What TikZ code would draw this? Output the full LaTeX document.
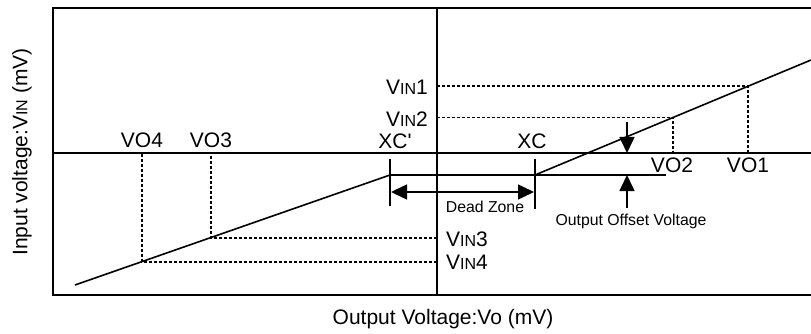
\documentclass[tikz,border=0pt]{standalone}
\usepackage{fontspec}
\setmainfont{Liberation Sans}
\usetikzlibrary{arrows.meta}
\newcommand{\vin}[1]{V{\fontsize{16}{17}\selectfont IN}#1}
\begin{document}
\begin{tikzpicture}[x=1pt,y=-1pt,
  frame/.style={line width=1.9pt},
  axis/.style={line width=1.9pt},
  curve/.style={line width=1.6pt},
  tick/.style={line width=1.5pt},
  guide/.style={line width=1.1pt,dash pattern=on 3pt off 2pt},
  big/.style={font=\fontsize{21}{23}\selectfont,inner sep=0pt},
  small/.style={font=\fontsize{15.8}{17}\selectfont,inner sep=0pt},
  arr/.style={line width=1.5pt,-{Triangle[length=16pt,width=15pt]}},
  darr/.style={line width=1.5pt,{Triangle[length=16pt,width=15pt]}-{Triangle[length=16pt,width=15pt]}}
]
\useasboundingbox (0,0) rectangle (811,334);
% frame
\coordinate (tl) at (53,8);
\coordinate (tr) at (812,8);
\coordinate (bl) at (53,295);
\coordinate (br) at (812,295);
\draw[frame] (tr) -- (tl) -- (bl) -- (br);
% axes
\coordinate (hl) at (53,153);
\coordinate (hr) at (812,153);
\coordinate (vt) at (437,8);
\coordinate (vb) at (437,295);
\draw[axis] (hl) -- (hr);
\draw[axis] (vt) -- (vb);
% characteristic
\coordinate (ls) at (75,285);
\coordinate (xcp) at (390,175);
\coordinate (xc) at (535,175);
\coordinate (re) at (811,60);
\draw[curve] (ls) -- (xcp);
\draw[curve] (xc) -- (re);
\coordinate (offe) at (666,175);
\draw[tick] (xcp) -- (offe);
% ticks
\coordinate (xcpt) at (390,159);
\coordinate (xcpb) at (390,206);
\coordinate (xct) at (535,159);
\coordinate (xcb) at (535,209);
\draw[tick] (xcpt) -- (xcpb);
\draw[tick] (xct) -- (xcb);
% dead zone arrow
\coordinate (dzl) at (391,192);
\coordinate (dzr) at (534,192);
\draw[darr] (dzl) -- (dzr);
\node[small] (dz) at (485,207) {Dead Zone};
% offset arrows
\coordinate (oa1) at (627,122);
\coordinate (oa1t) at (627,153);
\coordinate (oa2) at (627,208);
\coordinate (oa2t) at (627,175);
\draw[arr] (oa1) -- (oa1t);
\draw[arr] (oa2) -- (oa2t);
\node[small] (oov) at (631,221) {Output Offset Voltage};
% guide points
\coordinate (p1) at (748,86);
\coordinate (p2) at (673,117.5);
\coordinate (p3) at (211,238);
\coordinate (p4) at (142,262);
\coordinate (a1) at (437,86);
\coordinate (a2) at (437,117.5);
\coordinate (a3) at (437,238);
\coordinate (a4) at (437,262);
\coordinate (b1) at (748,153);
\coordinate (b2) at (673,153);
\coordinate (b3) at (211,153);
\coordinate (b4) at (142,153);
\draw[guide] (a1) -- (p1) -- (b1);
\draw[guide] (a2) -- (p2) -- (b2);
\draw[guide] (a3) -- (p3) -- (b3);
\draw[guide] (a4) -- (p4) -- (b4);
% labels
\node[big,anchor=east] (lv1) at (428,87.5) {\vin{1}};
\node[big,anchor=east] (lv2) at (428,119) {\vin{2}};
\node[big,anchor=west] (lv3) at (446,239) {\vin{3}};
\node[big,anchor=west] (lv4) at (446,262) {\vin{4}};
\node[big] (lxcp) at (395,141.5) {XC\textquotesingle};
\node[big] (lxc) at (532,141.5) {XC};
\node[big] (lo4) at (142,140.5) {VO4};
\node[big] (lo3) at (211,140.5) {VO3};
\node[big] (lo2) at (672,165.5) {VO2};
\node[big] (lo1) at (748,165.5) {VO1};
\node[big] (xlab) at (443,319) {Output Voltage:Vo (mV)};
\node[big,rotate=90] (ylab) at (22,152) {Input voltage:\vin{} (mV)};
\end{tikzpicture}
\end{document}
